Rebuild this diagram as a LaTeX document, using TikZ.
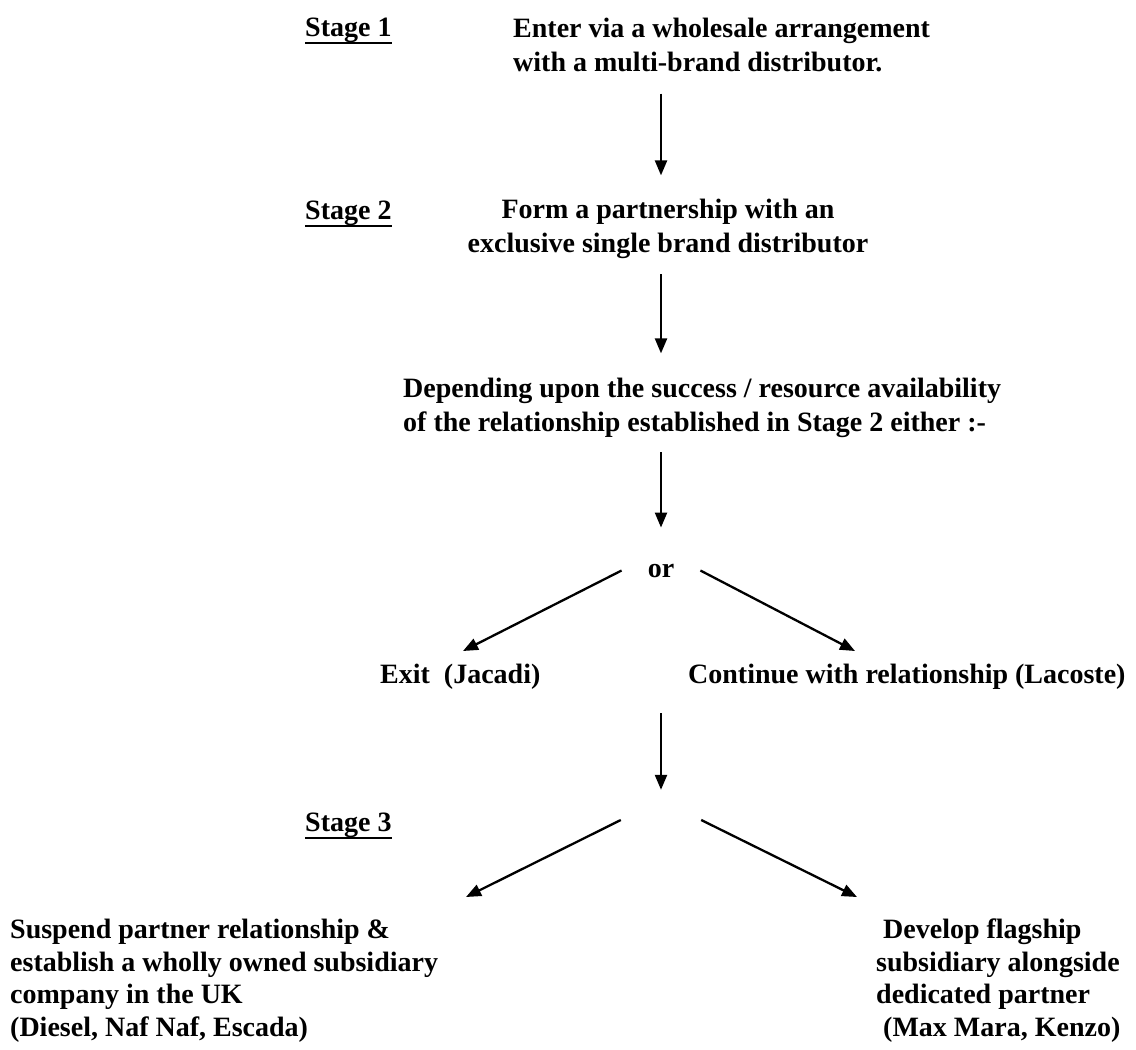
\documentclass[tikz,border=0pt]{standalone}
\usepackage{fontspec}
\setmainfont{Liberation Serif}
\usetikzlibrary{arrows.meta}
% underlined stage heading with a heavier rule
\newcommand\stageul[1]{\setbox0\hbox{#1}\rlap{\rule[-7.5pt]{\wd0}{1.8pt}}\box0}
\begin{document}
\begin{tikzpicture}[x=1pt,y=-1pt,
  txt/.style={font=\fontsize{28}{34}\selectfont\bfseries, inner sep=0pt, align=left},
  txtb/.style={font=\fontsize{28}{32.5}\selectfont\bfseries, inner sep=0pt, align=left},
  arr/.style={line width=2.3pt, -{Triangle[length=15pt,width=12pt]}}]
\useasboundingbox (0,0) rectangle (1136,1050);

% stage headings
\node[txt, anchor=base west] (st1) at (305,36) {\stageul{Stage 1}};
\node[txt, anchor=base west] (st2) at (305,219) {\stageul{Stage 2}};
\node[txt, anchor=base west] (st3) at (305,831) {\stageul{Stage 3}};

% steps (multi-line nodes are placed by the baseline of their last line)
\node[txt, anchor=base west] (s1) at (513,71)
  {Enter via a wholesale arrangement\\with a multi-brand distributor.};
\node[txt, anchor=base, align=center] (s2) at (668,252)
  {Form a partnership with an\\exclusive single brand distributor};
\node[txt, anchor=base west] (dep) at (403,431)
  {Depending upon the success / resource availability\\of the relationship established in Stage 2 either :-};
\node[txt, anchor=base, inner xsep=26pt] (or) at (661,577) {or};
\node[txt, anchor=base west] (exit) at (380,683) {Exit\ \ (Jacadi)};
\node[txt, anchor=base west] (cont) at (688,683) {Continue with relationship (Lacoste)};
\node[inner xsep=40pt, inner ysep=0pt, minimum size=0pt] (fork) at (661,820) {};
\node[txtb, anchor=base west] (sus) at (10,1036)
  {Suspend partner relationship \&\\establish a wholly owned subsidiary\\company in the UK\\(Diesel, Naf Naf, Escada)};
\node[txtb, anchor=base west] (dev) at (876,1036)
  {\hspace*{7pt}Develop flagship\\subsidiary alongside\\dedicated partner\\\hspace*{7pt}(Max Mara, Kenzo)};

% arrow ends that are not attached to a node
\coordinate (exitTip) at (463,651);
\coordinate (contTip) at (855,651);
\coordinate (susTip) at (466,897);
\coordinate (devTip) at (857,897);

% connectors
\draw[arr, shorten <=22pt, shorten >=23pt] (s1.south -| or) -- (s2.north -| or);
\draw[arr, shorten <=16pt, shorten >=24pt] (s2.south -| or) -- (dep.north -| or);
\draw[arr, shorten <=15pt, shorten >=36pt] (dep.south -| or) -- (or.north);
\draw[arr] (or.west) -- (exitTip);
\draw[arr] (or.east) -- (contTip);
\draw[arr, shorten <=24pt, shorten >=30pt] (exit.south -| fork) -- (fork.north);
\draw[arr] (fork.west) -- (susTip);
\draw[arr] (fork.east) -- (devTip);
\end{tikzpicture}
\end{document}
